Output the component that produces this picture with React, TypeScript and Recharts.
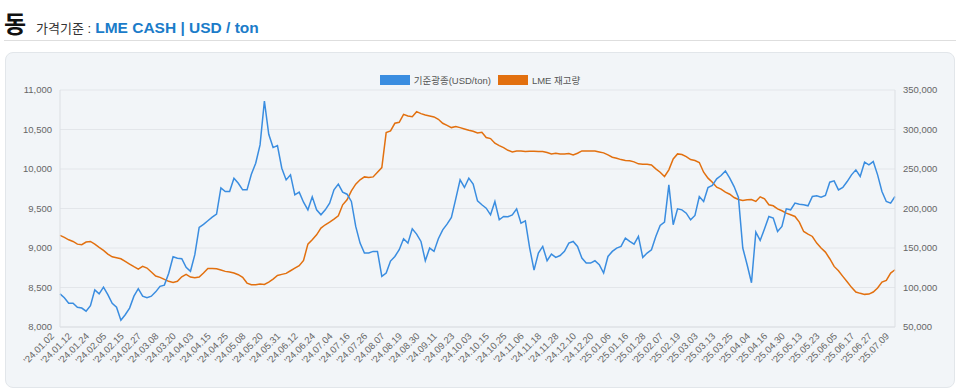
import React from "react"
import {
    LineChart,
    Line,
    XAxis,
    YAxis,
    CartesianGrid,
} from "recharts"

// x축 라벨 (8 거래일 간격)
const tickLabels = [
    "'24.01.02", "'24.01.12", "'24.01.24", "'24.02.05", "'24.02.15", "'24.02.27", "'24.03.08", "'24.03.20",
    "'24.04.03", "'24.04.15", "'24.04.25", "'24.05.08", "'24.05.20", "'24.05.31", "'24.06.12", "'24.06.24",
    "'24.07.04", "'24.07.16", "'24.07.26", "'24.08.07", "'24.08.19", "'24.08.30", "'24.09.11", "'24.09.23",
    "'24.10.03", "'24.10.15", "'24.10.25", "'24.11.06", "'24.11.18", "'24.11.28", "'24.12.10", "'24.12.20",
    "'25.01.06", "'25.01.16", "'25.01.28", "'25.02.07", "'25.02.19", "'25.03.03", "'25.03.13", "'25.03.25",
    "'25.04.04", "'25.04.16", "'25.04.30", "'25.05.13", "'25.05.23", "'25.06.05", "'25.06.17", "'25.06.27",
    "'25.07.09",
]

// 기준광종 LME CASH (USD/ton), 2 거래일 간격
const copperPrice = [
    8420, 8370, 8300, 8300, 8250, 8240, 8200, 8270, 8470, 8420, 8505, 8410, 8300, 8250, 8085, 8155,
    8240, 8390, 8485, 8390, 8370, 8390, 8445, 8515, 8530, 8680, 8890, 8870, 8865, 8755, 8705, 8915,
    9260, 9300, 9345, 9390, 9430, 9760, 9715, 9715, 9884, 9820, 9736, 9736, 9934, 10073, 10305, 10861,
    10440, 10271, 10296, 10010, 9862, 9926, 9673, 9707, 9580, 9483, 9648, 9483, 9420, 9483, 9568, 9736,
    9808, 9707, 9681, 9589, 9273, 9062, 8936, 8936, 8957, 8957, 8640, 8683, 8835, 8893, 8978, 9117,
    9062, 9243, 9176, 9083, 8839, 8999, 8957, 9117, 9230, 9302, 9386, 9622, 9862, 9766, 9884, 9808,
    9597, 9547, 9504, 9420, 9589, 9357, 9399, 9395, 9420, 9496, 9315, 9344, 8999, 8720, 8936, 9020,
    8839, 8923, 8881, 8905, 8957, 9062, 9083, 9020, 8872, 8809, 8809, 8839, 8788, 8683, 8893, 8957,
    8999, 9020, 9125, 9083, 9049, 9146, 8881, 8936, 8978, 9146, 9285, 9327, 9799, 9294, 9496, 9483,
    9441, 9357, 9412, 9652, 9589, 9766, 9791, 9875, 9917, 9976, 9884, 9778, 9639, 9000, 8788, 8560,
    9201, 9096, 9243, 9399, 9378, 9210, 9273, 9496, 9483, 9568, 9555, 9547, 9534, 9652, 9660, 9643,
    9664, 9833, 9850, 9736, 9766, 9841, 9926, 9989, 9905, 10086, 10052, 10094, 9926, 9715, 9589, 9568,
    9652,
]

// LME 재고량 (ton), 2 거래일 간격
const lmeStock = [
    165900, 163400, 160400, 158300, 154900, 154100, 157500, 158300, 154900, 150700, 146900, 142300, 138900, 137700, 136400, 133000,
    129700, 126300, 123300, 126700, 124600, 119600, 114500, 112800, 110300, 107800, 106500, 107800, 113600, 116600, 113200, 112400,
    113200, 118300, 124200, 124200, 123800, 122100, 120400, 119600, 118300, 116200, 112800, 105600, 103500, 103500, 104400, 103900,
    106900, 110700, 115300, 116600, 117900, 121200, 124600, 127600, 134300, 154900, 160400, 166700, 175200, 179400, 182700, 186500,
    190800, 204700, 211000, 222300, 230800, 236300, 240000, 239200, 240000, 245900, 251800, 296100, 298200, 307900, 309100, 319200,
    317100, 316300, 322600, 320100, 318400, 317100, 315900, 312900, 307900, 305300, 302400, 303700, 302400, 300700, 299000, 297800,
    295700, 296500, 289800, 288500, 282600, 279600, 277100, 273700, 271600, 272900, 272900, 272100, 272500, 272500, 272100, 272100,
    270800, 269100, 270000, 269100, 269100, 269500, 267800, 270000, 272900, 272900, 272900, 272900, 271600, 270400, 267800, 264900,
    263600, 261900, 260700, 260300, 259000, 256500, 256000, 256000, 255200, 250200, 245900, 240500, 248900, 262800, 269100, 268300,
    265700, 261900, 260700, 258200, 245900, 238400, 233300, 227000, 224500, 220700, 218100, 213900, 211400, 210100, 211000, 211400,
    208900, 214800, 212200, 204700, 203400, 199600, 197100, 194100, 192000, 189900, 182700, 170900, 167600, 164600, 156200, 149900,
    144800, 136400, 126700, 121200, 114100, 107300, 100200, 94300, 92600, 91300, 91700, 94300, 99300, 106900, 109000, 118300,
    122500,
]

const priceTicks = [8000, 8500, 9000, 9500, 10000, 10500, 11000]
const stockTicks = [50000, 100000, 150000, 200000, 250000, 300000, 350000]

const DAY_STEP = 2
const LABEL_STEP = 8

const BLUE = "#3a8de0"
const ORANGE = "#e2700f"
const FONT = '"Liberation Sans", Arial, "Noto Sans CJK KR", sans-serif'

const data = copperPrice.map((price, k) => ({
    day: k * DAY_STEP,
    price,
    stock: lmeStock[k],
}))

const xTicks = tickLabels.map((_, k) => k * LABEL_STEP)

const fmt = (v: number) => v.toLocaleString("en-US")

function DateTick(props: any) {
    const { x, y, payload } = props
    const label = tickLabels[Math.round(payload.value / LABEL_STEP)]
    return (
        <g transform={`translate(${x - 8},${y - 1}) rotate(-45)`}>
            <text x={0} y={0} dy={4} textAnchor="end" fontSize={9.5} fill="#666" fontFamily={FONT}>
                {label}
            </text>
        </g>
    )
}

export default function App() {
    return (
        <div style={{ position: "absolute", left: 0, top: 0, width: 960, height: 391, fontFamily: FONT, background: "#fff" }}>
            <div style={{ position: "absolute", left: 4, top: 5, whiteSpace: "nowrap", display: "flex", alignItems: "baseline" }}>
                <span style={{ fontSize: 24, fontWeight: 700, color: "#111" }}>동</span>
                <span style={{ fontSize: 13, color: "#333", marginLeft: 10 }}>가격기준 : </span>
                <span style={{ fontSize: 15.5, fontWeight: 700, color: "#1b7cc9", marginLeft: 4 }}>LME CASH | USD / ton</span>
            </div>
            <div style={{ position: "absolute", left: 4, top: 40, width: 952, height: 1, background: "#dedede" }} />

            <div
                style={{
                    position: "absolute",
                    left: 5,
                    top: 52,
                    width: 948,
                    height: 334,
                    background: "#f2f5f8",
                    border: "1px solid #e2e6ea",
                    borderRadius: 8,
                }}
            />

            <div style={{ position: "absolute", left: 0, top: 73, width: 960, display: "flex", justifyContent: "center", alignItems: "center", fontSize: 9.5, color: "#555" }}>
                <span style={{ display: "inline-block", width: 30, height: 10, background: BLUE, marginRight: 4 }} />
                <span>기준광종(USD/ton)</span>
                <span style={{ display: "inline-block", width: 30, height: 10, background: ORANGE, marginLeft: 7, marginRight: 4 }} />
                <span>LME 재고량</span>
            </div>

            <div style={{ position: "absolute", left: 5, top: 52 }}>
                <LineChart
                    width={950}
                    height={336}
                    data={data}
                    margin={{ top: 38, right: 5, bottom: 5, left: 5 }}
                >
                    <CartesianGrid vertical={false} stroke="#e3e6ea" yAxisId="left" />
                    <XAxis
                        dataKey="day"
                        type="number"
                        domain={[0, 384]}
                        ticks={xTicks}
                        interval={0}
                        height={56}
                        tick={<DateTick />}
                        tickLine={false}
                        axisLine={{ stroke: "#dcdfe3" }}
                    />
                    <YAxis
                        yAxisId="left"
                        orientation="left"
                        width={50}
                        domain={[8000, 11000]}
                        ticks={priceTicks}
                        tickFormatter={fmt}
                        tickLine={false}
                        axisLine={{ stroke: "#dcdfe3" }}
                        tick={{ fontSize: 9.5, fill: "#666", fontFamily: FONT }}
                    />
                    <YAxis
                        yAxisId="right"
                        orientation="right"
                        width={55}
                        domain={[50000, 350000]}
                        ticks={stockTicks}
                        tickFormatter={fmt}
                        tickLine={false}
                        axisLine={{ stroke: "#dcdfe3" }}
                        tick={{ fontSize: 9.5, fill: "#666", fontFamily: FONT, textAnchor: "start" }}
                    />
                    <Line
                        yAxisId="right"
                        dataKey="stock"
                        type="linear"
                        stroke={ORANGE}
                        strokeWidth={1.5}
                        dot={false}
                        isAnimationActive={false}
                    />
                    <Line
                        yAxisId="left"
                        dataKey="price"
                        type="linear"
                        stroke={BLUE}
                        strokeWidth={1.5}
                        dot={false}
                        isAnimationActive={false}
                    />
                </LineChart>
            </div>
        </div>
    )
}
